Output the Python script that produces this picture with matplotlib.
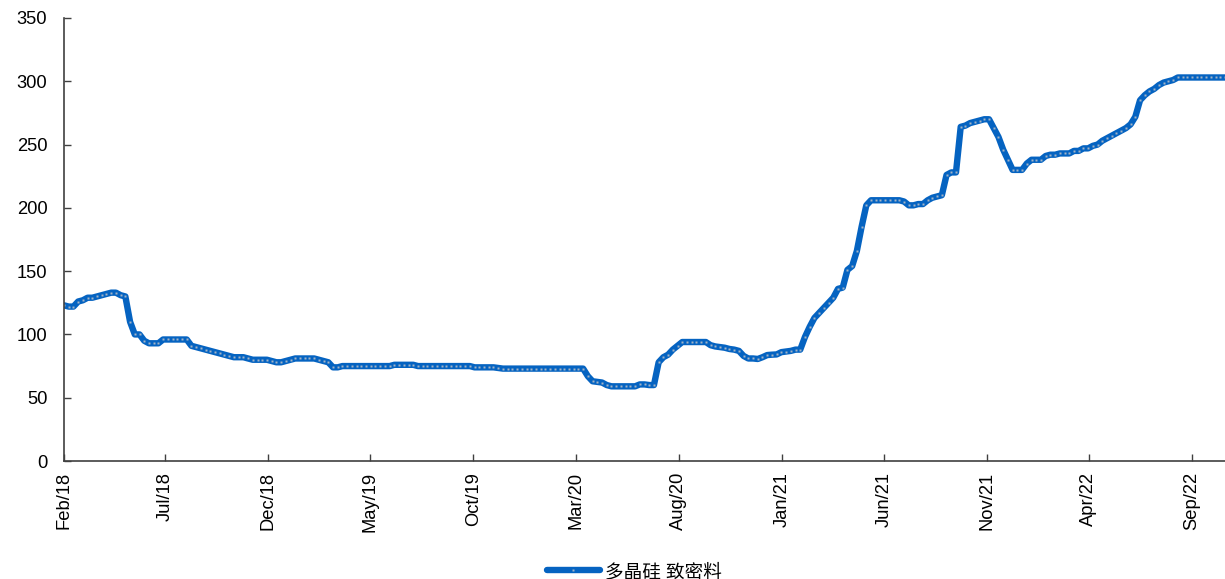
import numpy as np
import pandas as pd
import matplotlib
matplotlib.use("Agg")
import matplotlib.pyplot as plt
import matplotlib.dates as mdates

plt.rcParams['font.family'] = ['Liberation Sans', 'Noto Sans CJK SC']

# weekly price of dense polysilicon (多晶硅 致密料)
start_date = "2018-02-01"
series_name = "多晶硅 致密料"

vals_2018 = [123, 122, 122, 126, 127, 129, 129, 130, 131, 132,
             133, 133, 131, 130, 110, 100, 100, 95, 93, 93,
             93, 96, 96, 96, 96, 96, 96, 91, 90, 89,
             88, 87, 86, 85, 84, 83, 82, 82, 82, 81,
             80, 80, 80, 80, 79, 78, 78, 79]
vals_2019 = [80, 81, 81, 81, 81, 81, 80, 79, 78, 74,
             74, 75, 75, 75, 75, 75, 75, 75, 75, 75,
             75, 75, 76, 76, 76, 76, 76, 75, 75, 75,
             75, 75, 75, 75, 75, 75, 75, 75, 75, 74,
             74, 74, 74, 74, 73.5, 73, 73, 73]
vals_2020 = [73, 73, 73, 73, 73, 73, 73, 73, 73, 73,
             73, 73, 73, 73, 73, 67, 63, 62.5, 62, 60,
             59, 59, 59, 59, 59, 59, 60.5, 60.5, 60, 60,
             78, 82, 84, 88, 91, 94, 94, 94, 94, 94,
             94, 91.5, 90.5, 90, 89.5, 88.5, 88, 87]
vals_2021 = [83, 81, 81, 80.6, 82, 83.7, 84, 84.2, 86, 86.5,
             87, 88, 88, 98, 106, 113, 117, 121, 125, 129,
             136, 137, 151, 154, 166, 185, 202, 206, 206, 206,
             206, 206, 206, 206, 205, 202, 202, 203, 203, 206,
             208, 209, 210, 226, 228, 228, 264, 265]
vals_2022 = [267, 268, 269, 270, 270, 263, 256, 246, 238, 230,
             230, 230, 235, 238, 238, 238, 241, 242, 242, 243,
             243, 243, 245, 245, 247, 247, 249, 250, 253, 255,
             257, 259, 261, 263, 266, 272, 285, 289, 292, 294,
             297, 299, 300, 301, 303, 303, 303, 303, 303, 303,
             303, 303, 303, 303, 303]

values = vals_2018 + vals_2019 + vals_2020 + vals_2021 + vals_2022
dates = pd.date_range(start_date, periods=len(values), freq="7D")

tick_dates = pd.date_range("2018-02-01", "2022-09-01", freq="5MS")
y_ticks = [0, 50, 100, 150, 200, 250, 300, 350]

fig = plt.figure(figsize=(12.25, 5.79), dpi=100)
ax = fig.add_axes([64 / 1225, 118 / 579, 1161 / 1225, 443 / 579])

line_color = "#0563C1"
ax.plot(dates, values, color=line_color, lw=4.6, marker="s", ms=1.8,
        mfc="#a3b3c6", mec="none", label=series_name, solid_capstyle="round",
        solid_joinstyle="round")

ax.set_xlim(dates[0], dates[-1])
ax.set_ylim(0, 350)
ax.set_yticks(y_ticks)
ax.set_xticks(tick_dates)
ax.xaxis.set_major_formatter(mdates.DateFormatter("%b/%y"))
ax.tick_params(axis="x", direction="in", length=5, width=1, rotation=90,
               labelsize=13.2, pad=8, color="#404040")
ax.tick_params(axis="y", direction="in", length=5, width=1,
               labelsize=13.2, pad=12, color="#404040")

for s in ["top", "right"]:
    ax.spines[s].set_visible(False)
for s in ["left", "bottom"]:
    ax.spines[s].set_color("#404040")
    ax.spines[s].set_linewidth(1.2)

ax.legend(loc="center", bbox_to_anchor=(0.518, 0.012), bbox_transform=fig.transFigure,
          frameon=False, fontsize=13.4, handlelength=2.85, handletextpad=0.3)

fig.savefig("out.png", dpi=100)
